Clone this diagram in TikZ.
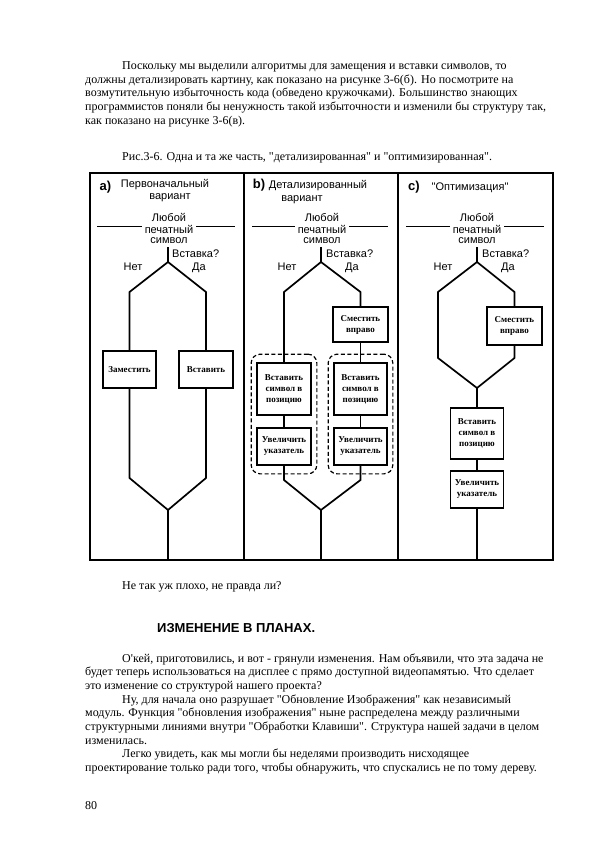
\documentclass[tikz,border=0pt]{standalone}
\usepackage{fontspec}
\setmainfont{Liberation Serif}[Ligatures=TeXOff]
\newfontfamily\sansf{Liberation Sans}[Ligatures=TeXOff]
\usetikzlibrary{fit}
\begin{document}
\begin{tikzpicture}[x=1pt,y=-1pt,
  body/.style={anchor=base west, inner sep=0pt, font=\fontsize{12}{14}\selectfont},
  head/.style={anchor=base west, inner sep=0pt, font=\fontsize{13}{15}\sansf\bfseries},
  ttl/.style={anchor=base, inner sep=0pt, font=\fontsize{11}{12}\sansf},
  plab/.style={anchor=center, inner sep=0pt, font=\fontsize{13}{14}\sansf\bfseries},
  sym/.style={anchor=base, inner sep=0pt, font=\fontsize{11}{11}\sansf},
  symmid/.style={anchor=base, inner xsep=3pt, inner ysep=0pt, font=\fontsize{11}{11}\sansf},
  pbox/.style={draw, line width=1.7pt, inner sep=1pt, align=center,
    font=\fontsize{9}{11}\selectfont\bfseries},
  flow/.style={line width=1.7pt, line join=miter},
  hline/.style={line width=1.6pt},
  frame/.style={line width=1.8pt},
  grp/.style={draw, dashed, dash pattern=on 4pt off 2.5pt, line width=1.2pt, rounded corners=9pt,
    inner xsep=5pt, inner ysep=8pt}
]
\useasboundingbox (0,0) rectangle (600,849);

% ---------------- text above ----------------
\node[body] (t1) at (122,69) {Поскольку мы выделили алгоритмы для замещения и вставки символов, то};
\node[body] (t2) at (85,83) {должны детализировать картину, как показано на рисунке 3-6(б). Но посмотрите на};
\node[body] (t3) at (85,96.6) {возмутительную избыточность кода (обведено кружочками). Большинство знающих};
\node[body] (t4) at (85,110.3) {программистов поняли бы ненужность такой избыточности и изменили бы структуру так,};
\node[body] (t5) at (85,124) {как показано на рисунке 3-6(в).};
\node[body] (cap) at (122,160) {Рис.3-6. Одна и та же часть, "детализированная" и "оптимизированная".};

% ---------------- frame ----------------
\draw[frame] (90,173) rectangle (553,560);
\draw[frame] (244,173) -- (244,560);
\draw[frame] (398,173) -- (398,560);

% ================= panel a =================
\node[plab] (a_lab) at (105.5,187.5) {a)};
\node[ttl] (a_t1) at (165,187) {Первоначальный};
\node[ttl] (a_t2) at (170,199.5) {вариант};
\node[sym] (a_ly) at (169,221) {Любой};
\node[symmid] (a_pe) at (169,233) {печатный};
\node[sym] (a_si) at (169,243.5) {символ};
\coordinate (a_hl) at (97,226.5);
\coordinate (a_hr) at (235,226.5);
\draw[hline] (a_hl) -- (a_hl -| a_pe.west);
\draw[hline] (a_hr -| a_pe.east) -- (a_hr);
\node[sym, anchor=base west] (a_q) at (172,257) {Вставка?};
\node[sym] (a_no) at (133,270) {Нет};
\node[sym] (a_yes) at (199,270) {Да};
\coordinate (a_s) at (168,247);
\coordinate (a_j) at (168,262);
\coordinate (a_l) at (129.5,292);
\coordinate (a_r) at (206,292);
\node[pbox, minimum width=53pt, minimum height=37pt] (a_zam) at (129.5,369.5) {Заместить};
\node[pbox, minimum width=54pt, minimum height=37pt] (a_vst) at (206,369.5) {Вставить};
\coordinate (a_lb) at (129.5,478);
\coordinate (a_rb) at (206,478);
\coordinate (a_m) at (168,510);
\coordinate (a_e) at (168,560);
\draw[flow] (a_s) -- (a_j) -- (a_l) -- (a_zam.north);
\draw[flow] (a_j) -- (a_r) -- (a_vst.north);
\draw[flow] (a_zam.south) -- (a_lb) -- (a_m) -- (a_rb) -- (a_vst.south);
\draw[flow] (a_m) -- (a_e);

% ================= panel b =================
\node[plab] (b_lab) at (259,185.5) {b)};
\node[ttl] (b_t1) at (318,188) {Детализированный};
\node[ttl] (b_t2) at (302,201) {вариант};
\node[sym] (b_ly) at (322,221) {Любой};
\node[symmid] (b_pe) at (322,233) {печатный};
\node[sym] (b_si) at (322,243.5) {символ};
\coordinate (b_hl) at (252,226.5);
\coordinate (b_hr) at (388,226.5);
\draw[hline] (b_hl) -- (b_hl -| b_pe.west);
\draw[hline] (b_hr -| b_pe.east) -- (b_hr);
\node[sym, anchor=base west] (b_q) at (326,257) {Вставка?};
\node[sym] (b_no) at (287,270) {Нет};
\node[sym] (b_yes) at (352,270) {Да};
\coordinate (b_s) at (321,247);
\coordinate (b_j) at (321,262);
\coordinate (b_l) at (284,292);
\coordinate (b_r) at (360.5,292);
\node[pbox, minimum width=55pt, minimum height=35pt] (b_sm) at (360.5,324.5) {Сместить\\вправо};
\node[pbox, minimum width=54pt, minimum height=52pt] (b_v1) at (284,389) {Вставить\\символ в\\позицию};
\node[pbox, minimum width=54pt, minimum height=37pt] (b_u1) at (284,446.5) {Увеличить\\указатель};
\node[pbox, minimum width=53pt, minimum height=52pt] (b_v2) at (360.5,389) {Вставить\\символ в\\позицию};
\node[pbox, minimum width=53pt, minimum height=37pt] (b_u2) at (360.5,446.5) {Увеличить\\указатель};
\node[grp, fit=(b_v1)(b_u1)] (b_g1) {};
\node[grp, fit=(b_v2)(b_u2)] (b_g2) {};
\coordinate (b_lb) at (284,480);
\coordinate (b_rb) at (360.5,480);
\coordinate (b_m) at (321,510);
\coordinate (b_e) at (321,560);
\draw[flow] (b_s) -- (b_j) -- (b_l) -- (b_v1.north);
\draw[flow] (b_j) -- (b_r) -- (b_sm.north);
\draw[flow] (b_sm.south) -- (b_v2.north);
\draw[flow] (b_v1.south) -- (b_u1.north);
\draw[flow] (b_v2.south) -- (b_u2.north);
\draw[flow] (b_u1.south) -- (b_lb) -- (b_m) -- (b_rb) -- (b_u2.south);
\draw[flow] (b_m) -- (b_e);

% ================= panel c =================
\node[plab] (c_lab) at (414,187.5) {c)};
\node[ttl] (c_t1) at (470,190) {"Оптимизация"};
\node[sym] (c_ly) at (477,221) {Любой};
\node[symmid] (c_pe) at (477,233) {печатный};
\node[sym] (c_si) at (477,243.5) {символ};
\coordinate (c_hl) at (406,226.5);
\coordinate (c_hr) at (544,226.5);
\draw[hline] (c_hl) -- (c_hl -| c_pe.west);
\draw[hline] (c_hr -| c_pe.east) -- (c_hr);
\node[sym, anchor=base west] (c_q) at (482,257) {Вставка?};
\node[sym] (c_no) at (443,270) {Нет};
\node[sym] (c_yes) at (508,270) {Да};
\coordinate (c_s) at (477,247);
\coordinate (c_j) at (477,262);
\coordinate (c_l) at (438,292);
\coordinate (c_r) at (514.5,292);
\node[pbox, minimum width=55pt, minimum height=38pt] (c_sm) at (514.5,326) {Сместить\\вправо};
\coordinate (c_lb) at (438,358);
\coordinate (c_rb) at (514.5,358);
\coordinate (c_m) at (477,388);
\node[pbox, minimum width=53pt, minimum height=51pt] (c_v) at (477,433.5) {Вставить\\символ в\\позицию};
\node[pbox, minimum width=53pt, minimum height=37pt] (c_u) at (477,489.5) {Увеличить\\указатель};
\coordinate (c_e) at (477,560);
\draw[flow] (c_s) -- (c_j) -- (c_l) -- (c_lb) -- (c_m) -- (c_rb) -- (c_sm.south);
\draw[flow] (c_j) -- (c_r) -- (c_sm.north);
\draw[flow] (c_m) -- (c_v.north);
\draw[flow] (c_v.south) -- (c_u.north);
\draw[flow] (c_u.south) -- (c_e);

% ---------------- text below ----------------
\node[body] (t6) at (122,589) {Не так уж плохо, не правда ли?};
\node[head] (hd) at (157,632) {ИЗМЕНЕНИЕ В ПЛАНАХ.};
\node[body] (p1) at (122,662) {O'кей, приготовились, и вот - грянули изменения. Нам объявили, что эта задача не};
\node[body] (p2) at (85,675.7) {будет теперь использоваться на дисплее с прямо доступной видеопамятью. Что сделает};
\node[body] (p3) at (85,689.4) {это изменение со структурой нашего проекта?};
\node[body] (p4) at (122,703.1) {Ну, для начала оно разрушает "Обновление Изображения" как независимый};
\node[body] (p5) at (85,716.8) {модуль. Функция "обновления изображения" ныне распределена между различными};
\node[body] (p6) at (85,730.5) {структурными линиями внутри "Обработки Клавиши". Структура нашей задачи в целом};
\node[body] (p7) at (85,744.2) {изменилась.};
\node[body] (p8) at (122,757.9) {Легко увидеть, как мы могли бы неделями производить нисходящее};
\node[body] (p9) at (85,771.6) {проектирование только ради того, чтобы обнаружить, что спускались не по тому дереву.};
\node[body] (pg) at (85,809) {80};
\end{tikzpicture}
\end{document}
